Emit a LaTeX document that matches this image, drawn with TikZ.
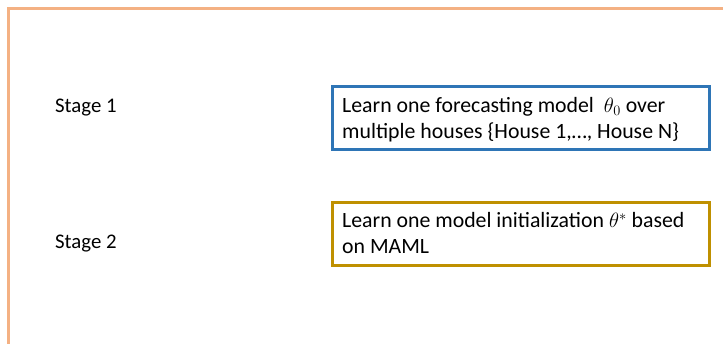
\documentclass[tikz,border=0pt]{standalone}
\usepackage{fontspec}
\setmainfont{Carlito}
\definecolor{frameorange}{RGB}{244,177,131}
\definecolor{boxblue}{RGB}{46,117,182}
\definecolor{boxgold}{RGB}{191,144,0}
\begin{document}
\begin{tikzpicture}[x=1pt,y=-1pt,
  txt/.style={anchor=base west,inner sep=0pt,font=\fontsize{20.8}{26}\selectfont},
  boxtxt/.style={anchor=base west,inner sep=0pt,font=\fontsize{21.8}{26}\selectfont},
  stagebox/.style={draw,line width=3pt,minimum width=377pt,minimum height=63pt,inner sep=0pt}]
\useasboundingbox (0,0) rectangle (723,343);
\clip (0,0) rectangle (723,343);
\fill[white] (0,0) rectangle (723,343);
\draw[frameorange,line width=3pt] (8,360) -- (8,8) -- (740,8);
\node[txt] (s1) at (55,112) {Stage 1};
\node[txt] (s2) at (55,248) {Stage 2};
\node[stagebox,draw=boxblue] (b1) at (520.5,117.5) {};
\node[stagebox,draw=boxgold] (b2) at (520.5,234) {};
\node[boxtxt] (t1a) at (342,112) {Learn one forecasting model \ $\theta_0$ over};
\node[boxtxt] (t1b) at (342,138.3) {multiple houses \{House 1,…, House N\}};
\node[boxtxt] (t2a) at (342,227.7) {Learn one model initialization $\theta^*$ based};
\node[boxtxt] (t2b) at (342,253.3) {on MAML};
\end{tikzpicture}
\end{document}
